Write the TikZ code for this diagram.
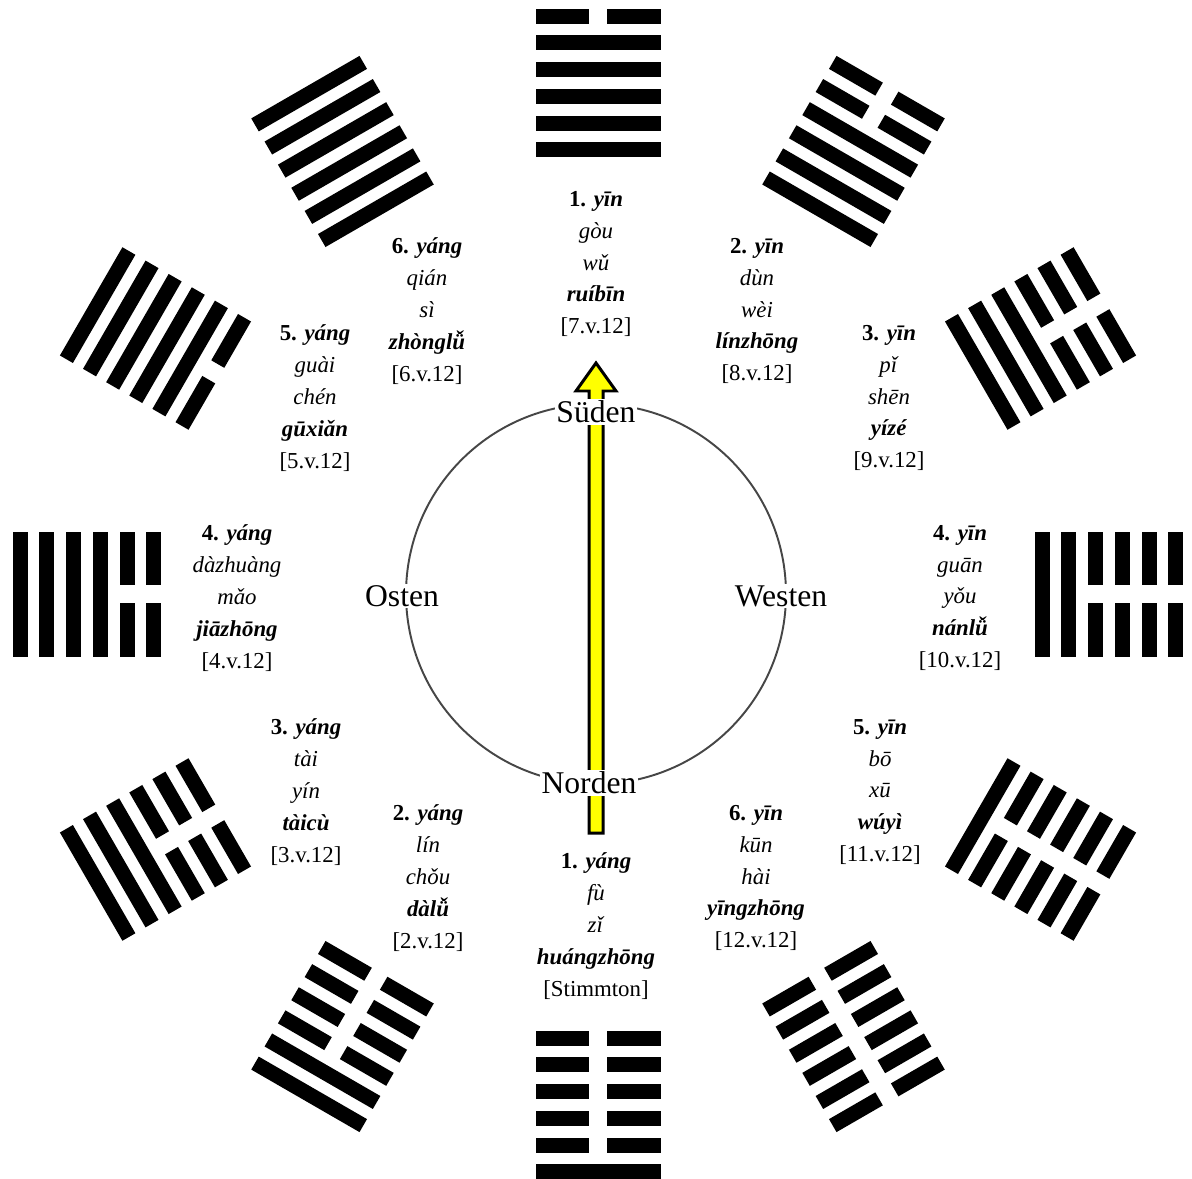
\documentclass[tikz,border=0pt]{standalone}
\usepackage{fontspec}
\setmainfont{Liberation Serif}
\usetikzlibrary{calc}
\definecolor{ring}{RGB}{70,70,70}
\definecolor{yarr}{RGB}{255,255,0}
% one hexagram: #1 = direction, #2 = lines from the outside in (1 yang, 0 yin)
\newcommand{\Hexa}[2]{%
  \begin{scope}[shift={(C)},rotate=#1-90]
    \foreach \v [count=\k] in {#2} {
      \pgfmathsetmacro{\yy}{511+(3.5-\k)*26.7}
      \ifnum\v=1
        \fill[bar] (-62.5,\yy-7.5) rectangle (62.5,\yy+7.5);
      \else
        \fill[bar] (-62.5,\yy-7.5) rectangle (-9,\yy+7.5);
        \fill[bar] (9,\yy-7.5) rectangle (62.5,\yy+7.5);
      \fi
    }
  \end{scope}}
\newcommand{\Yao}[6]{\textbf{#1} \textbf{\textit{#2}}\\ \textit{#3}\\ \textit{#4}\\ \textbf{\textit{#5}}\\ {#6}}

\begin{document}
\begin{tikzpicture}[x=0.02cm,y=0.02cm,
  every node/.style={font=\fontsize{13}{18.1}\selectfont},
  blk/.style={align=center,inner sep=0pt},
  dir/.style={fill=white,inner sep=1pt,font=\fontsize{18}{20}\selectfont},
  bar/.style={fill=black}]
  \fill[white] (0,0) rectangle (1192,1178);
  \useasboundingbox (0,0) rectangle (1192,1178);
  \coordinate (C) at (598,584);

  % the twelve hexagrams
  \Hexa{90}{0,1,1,1,1,1}
  \Hexa{60}{0,0,1,1,1,1}
  \Hexa{30}{0,0,0,1,1,1}
  \Hexa{0}{0,0,0,0,1,1}
  \Hexa{-30}{0,0,0,0,0,1}
  \Hexa{-60}{0,0,0,0,0,0}
  \Hexa{-90}{1,0,0,0,0,0}
  \Hexa{-120}{1,1,0,0,0,0}
  \Hexa{-150}{1,1,1,0,0,0}
  \Hexa{180}{1,1,1,1,0,0}
  \Hexa{150}{1,1,1,1,1,0}
  \Hexa{120}{1,1,1,1,1,1}

  % circle and arrow
  \draw[ring,line width=1.1pt] (596,584) circle (190);
  \coordinate (tail) at (596,345);
  \coordinate (tip) at (596,815);
  \draw[fill=yarr,line width=1.7pt,line join=miter]
    ($(tail)+(-7,0)$) -- ($(tip)+(-7,-28)$) -- ($(tip)+(-20,-28)$) -- (tip)
    -- ($(tip)+(20,-28)$) -- ($(tip)+(7,-28)$) -- ($(tail)+(7,0)$) -- cycle;

  \node[dir] (s) at (596,766) {Süden};
  \node[dir] (n) at (589,395) {Norden};
  \node[dir] (o) at (402,582) {Osten};
  \node[dir] (w) at (781,582) {Westen};

  % yin half
  \node[blk] (t1) at (596,914) {\Yao{1.}{yīn}{gòu}{wǔ}{ruíbīn}{[7.v.12]}};
  \node[blk] (t2) at (757,867) {\Yao{2.}{yīn}{dùn}{wèi}{línzhōng}{[8.v.12]}};
  \node[blk] (t3) at (889,780) {\Yao{3.}{yīn}{pǐ}{shēn}{yízé}{[9.v.12]}};
  \node[blk] (t4) at (960,580) {\Yao{4.}{yīn}{guān}{yǒu}{nánlǚ}{[10.v.12]}};
  \node[blk] (t5) at (880,386) {\Yao{5.}{yīn}{bō}{xū}{wúyì}{[11.v.12]}};
  \node[blk] (t6) at (756,300) {\Yao{6.}{yīn}{kūn}{hài}{yīngzhōng}{[12.v.12]}};
  % yang half
  \node[blk] (a1) at (596,252) {\Yao{1.}{yáng}{fù}{zǐ}{huángzhōng}{[Stimmton]}};
  \node[blk] (a2) at (428,300) {\Yao{2.}{yáng}{lín}{chǒu}{dàlǚ}{[2.v.12]}};
  \node[blk] (a3) at (306,386) {\Yao{3.}{yáng}{tài}{yín}{tàicù}{[3.v.12]}};
  \node[blk] (a4) at (237,580) {\Yao{4.}{yáng}{dàzhuàng}{mǎo}{jiāzhōng}{[4.v.12]}};
  \node[blk] (a5) at (315,780) {\Yao{5.}{yáng}{guài}{chén}{gūxiǎn}{[5.v.12]}};
  \node[blk] (a6) at (427,867) {\Yao{6.}{yáng}{qián}{sì}{zhònglǚ}{[6.v.12]}};
\end{tikzpicture}
\end{document}
